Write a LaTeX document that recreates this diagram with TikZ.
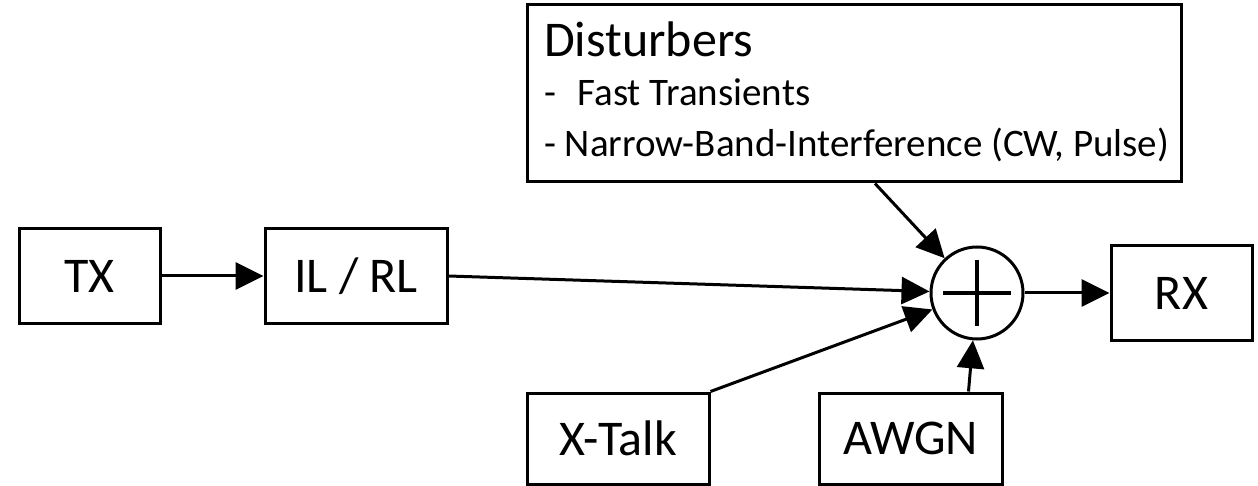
\documentclass[tikz,border=0pt]{standalone}
\usepackage{fontspec}
\setmainfont{Carlito}
\usetikzlibrary{arrows.meta}

\tikzset{
  blk/.style={draw, line width=3pt, minimum width=#1, minimum height=94pt,
              inner sep=0pt, font=\fontsize{50}{60}\selectfont},
  sumnode/.style={draw, circle, line width=3pt, minimum size=92pt, inner sep=0pt},
  link/.style={line width=3pt, -{Triangle[length=28pt, width=27pt]}},
  plain/.style={line width=3.4pt},
  title/.style={anchor=base west, inner sep=0pt, font=\fontsize{50}{60}\selectfont},
  item/.style={anchor=base west, inner sep=0pt, font=\fontsize{39}{47}\selectfont}
}

\begin{document}
\begin{tikzpicture}[x=1pt, y=-1pt]
  \useasboundingbox (0,0) rectangle (1258,486);

  % main signal chain
  \node[blk=141pt] (tx) at (89.5,276) {TX};
  \node[blk=182pt] (il) at (356,276) {IL / RL};
  \node[sumnode] (sum) at (977,293) {};
  \draw[plain] ([xshift=-34pt]sum.center) -- ([xshift=34pt]sum.center);
  \draw[plain] ([yshift=-33pt]sum.center) -- ([yshift=33pt]sum.center);
  \node[blk=141pt] (rx) at (1181.5,293) {RX};

  % impairments
  \node[blk=182pt, minimum height=91pt] (xt) at (618,438.5) {X-Talk};
  \node[blk=183pt, minimum height=91pt] (aw) at (910.5,438.5) {AWGN};
  \node[draw, line width=3pt, minimum width=654pt, minimum height=177pt,
        inner sep=0pt] (dist) at (854,93.5) {};
  \node[title] (dt) at (544,57) {Disturbers};
  \node[item] (d1) at (544,106) {-\hspace{0.55em}Fast Transients};
  \node[item] (d2) at (544,157) {- Narrow-Band-Interference (CW, Pulse)};

  % connectors
  \draw[link] (tx.east) -- (il.west);
  \draw[link] (il.east) -- (sum);
  \draw[link] (xt.north east) -- (sum);
  \draw[link] ([xshift=-35pt]aw.north east) -- (sum);
  \draw[link] ([xshift=21pt]dist.south) -- (sum);
  \draw[link] (sum.east) -- (rx.west);
\end{tikzpicture}
\end{document}
